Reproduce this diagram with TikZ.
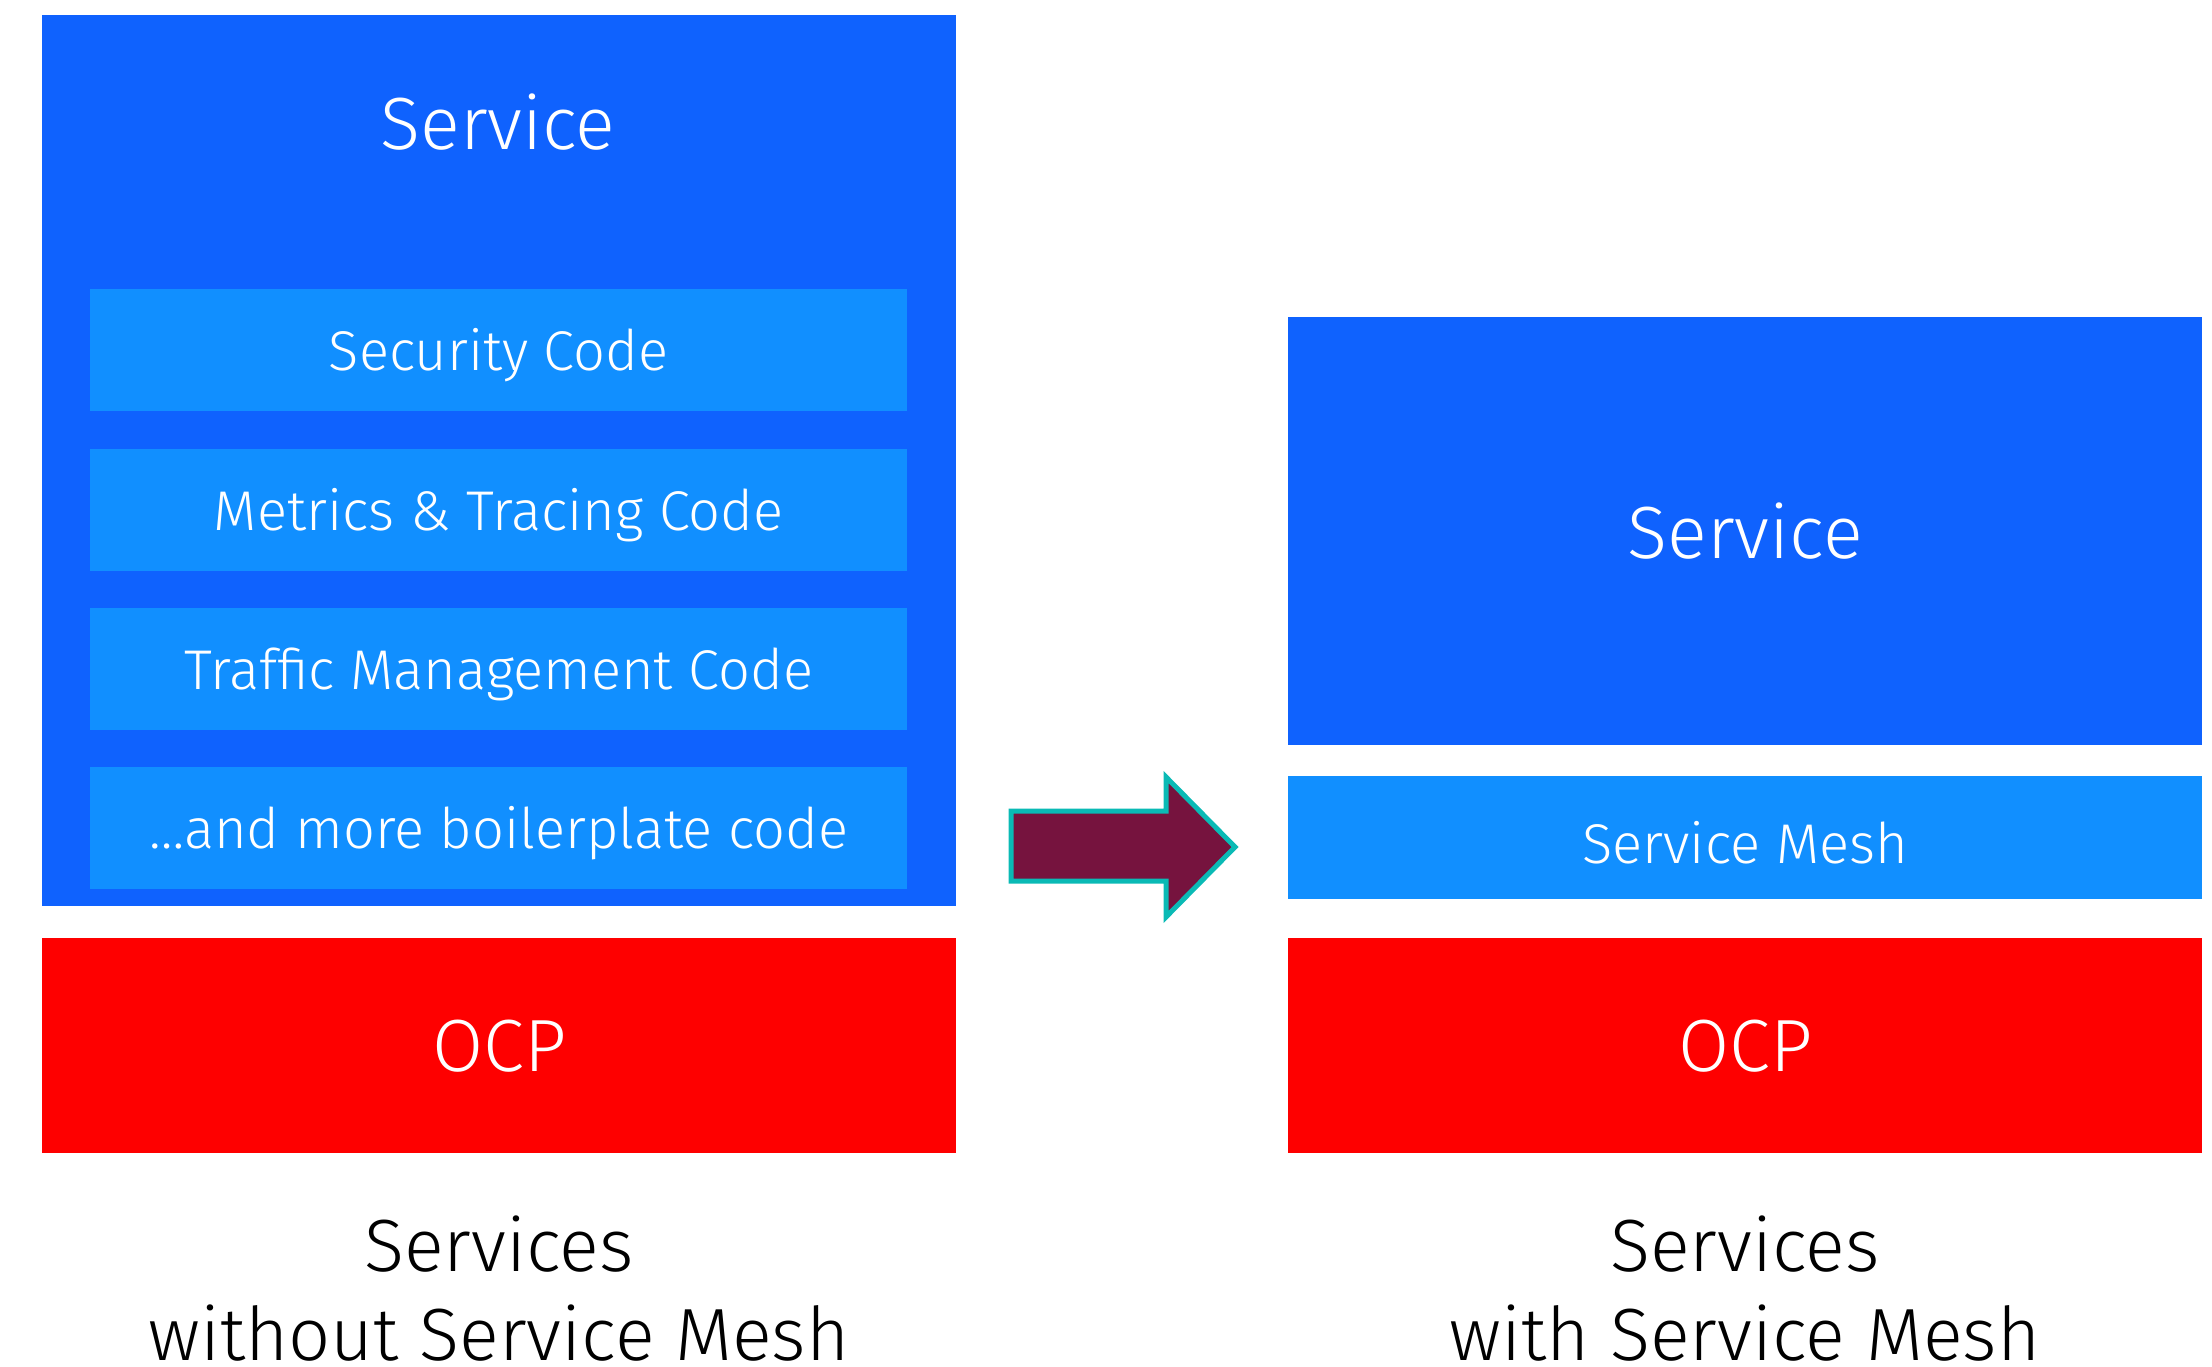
\documentclass[tikz,border=0pt]{standalone}
\usepackage{fontspec}
\setmainfont{Fira Sans}[UprightFont=* Light]
\definecolor{svcblue}{HTML}{0F62FE}
\definecolor{codeblue}{HTML}{118FFF}
\definecolor{ocpred}{HTML}{FE0000}
\definecolor{arrowfill}{HTML}{76133E}
\definecolor{arrowedge}{HTML}{0ABAB5}
\tikzset{
  box/.style={rectangle, inner sep=0pt, anchor=north west},
  svcbox/.style={box, fill=svcblue},
  codebox/.style={box, fill=codeblue, minimum width=817pt, minimum height=122pt},
  ocpbox/.style={box, fill=ocpred, minimum width=914pt, minimum height=215pt},
  whitetxt/.style={text=white, inner sep=0pt},
  bigtxt/.style={font=\fontsize{74}{80}\selectfont},
  midtxt/.style={font=\fontsize{56}{64}\selectfont, yshift=-5pt},
  captxt/.style={text=black, inner sep=0pt, align=center, font=\fontsize{74}{89}\selectfont},
}
\begin{document}
\begin{tikzpicture}[x=1pt,y=-1pt]
\useasboundingbox (0,0) rectangle (2212,1366);
% left column
\node[svcbox, minimum width=914pt, minimum height=891pt] (lsvc) at (42,15) {};
\node[whitetxt, bigtxt] (lsvct) at (498,122) {Service};
\node[codebox] (sec) at (90,289) {};
\node[whitetxt, midtxt] (sect) at (sec.center) {Security Code};
\node[codebox] (met) at (90,449) {};
\node[whitetxt, midtxt] (mett) at (met.center) {Metrics \& Tracing Code};
\node[codebox] (tra) at (90,608) {};
\node[whitetxt, midtxt] (trat) at (tra.center) {Traffic Management Code};
\node[codebox] (more) at (90,767) {};
\node[whitetxt, midtxt] (moret) at (more.center) {…and more boilerplate code};
\node[ocpbox] (locp) at (42,938) {};
\node[whitetxt, bigtxt] (locpt) at (locp.center) {OCP};
\node[captxt] (lcap) at (499,1289) {Services\\without Service Mesh};
% right column
\node[svcbox, minimum width=914pt, minimum height=428pt] (rsvc) at (1288,317) {};
\node[whitetxt, bigtxt] (rsvct) at (rsvc.center) {Service};
\node[box, fill=codeblue, minimum width=914pt, minimum height=123pt] (mesh) at (1288,776) {};
\node[whitetxt, midtxt] (mesht) at (mesh.center) {Service Mesh};
\node[ocpbox] (rocp) at (1288,938) {};
\node[whitetxt, bigtxt] (rocpt) at (rocp.center) {OCP};
\node[captxt] (rcap) at (1745,1289) {Services\\with Service Mesh};
% block arrow
\draw[fill=arrowfill, draw=arrowedge, line width=5pt, line join=miter]
  (1011,811) -- (1166,811) -- (1166,777) -- (1235,847) -- (1166,917) -- (1166,881) -- (1011,881) -- cycle;
\end{tikzpicture}
\end{document}
